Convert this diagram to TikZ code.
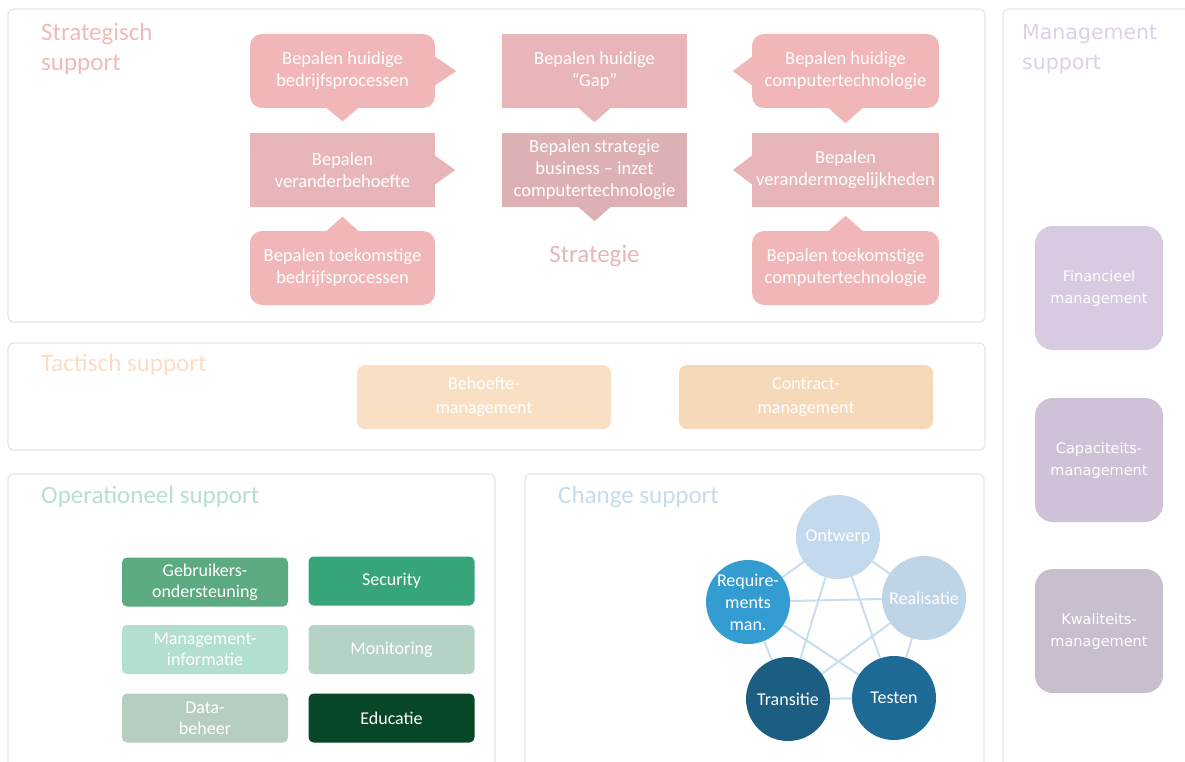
\documentclass[tikz,border=0pt]{standalone}
\usepackage{fontspec}
\setmainfont{Carlito}
\newfontfamily\mgtfont{DejaVu Sans}
\usetikzlibrary{calc,backgrounds}

\definecolor{panelgray}{HTML}{E6E6E6}
\definecolor{spink}{HTML}{F1B6B7}
\definecolor{srose}{HTML}{E8B5B8}
\definecolor{sdark}{HTML}{DDB1B4}
\definecolor{stitle}{HTML}{F2B9B9}
\definecolor{sstrat}{HTML}{E6B6BA}
\definecolor{ttitle}{HTML}{FBDDC3}
\definecolor{tbeh}{HTML}{F9E0C4}
\definecolor{tcon}{HTML}{F5D9B9}
\definecolor{otitle}{HTML}{B5E0D1}
\definecolor{ogeb}{HTML}{5CAA80}
\definecolor{osec}{HTML}{36A67A}
\definecolor{omgi}{HTML}{B3DFCF}
\definecolor{omon}{HTML}{B5D3C5}
\definecolor{odat}{HTML}{B5CEBF}
\definecolor{oedu}{HTML}{074727}
\definecolor{ctitle}{HTML}{C6DBEE}
\definecolor{cont}{HTML}{C3D9ED}
\definecolor{crea}{HTML}{BED4E7}
\definecolor{ctes}{HTML}{1E6A97}
\definecolor{ctra}{HTML}{1B5E81}
\definecolor{creq}{HTML}{339DD2}
\definecolor{clink}{HTML}{C8DDF0}
\definecolor{mtitle}{HTML}{DCCFE6}
\definecolor{mfin}{HTML}{D8CAE0}
\definecolor{mcap}{HTML}{CFC1D7}
\definecolor{mkwa}{HTML}{C9BECE}

\begin{document}
\begin{tikzpicture}[x=1pt,y=-1pt,
  panel/.style={draw=panelgray,line width=1.2pt,rounded corners=6pt},
  ptitle/.style={anchor=west,align=left,inner sep=0pt,font=\fontsize{25}{30}\selectfont},
  sbox/.style={fill=spink,text=white,align=center,inner sep=0pt,minimum width=185pt,minimum height=74pt,rounded corners=12pt,font=\fontsize{18.5}{22}\selectfont},
  srect/.style={sbox,sharp corners,fill=srose},
  tbox/.style={text=white,align=center,inner sep=0pt,minimum width=254pt,minimum height=64pt,rounded corners=8pt,font=\fontsize{18}{24}\selectfont},
  obox/.style={text=white,align=center,inner sep=0pt,minimum width=166pt,minimum height=49pt,rounded corners=5pt,font=\fontsize{18}{21}\selectfont},
  cbox/.style={circle,text=white,align=center,inner sep=0pt,minimum size=84pt,font=\fontsize{18}{22}\selectfont},
  mbox/.style={text=white,align=center,inner sep=0pt,minimum width=128pt,minimum height=124pt,rounded corners=18pt,font=\mgtfont\fontsize{14.5}{22}\selectfont},
  link/.style={draw=clink,line width=2pt}
]
\useasboundingbox (0,0) rectangle (1185,762);
\clip (0,0) rectangle (1185,762);

% panels
\draw[panel] (8,9) rectangle (985,322);
\draw[panel] (8,343) rectangle (985,450);
\draw[panel] (8,474) rectangle (495,790);
\draw[panel] (525,474) rectangle (984,790);
\draw[panel] (1003,9) rectangle (1210,790);

\node[ptitle,text=stitle] (tstr) at (41,49) {Strategisch\\support};
\node[ptitle,text=ttitle] (ttac) at (41,365) {Tactisch support};
\node[ptitle,text=otitle] (tope) at (41,497) {Operationeel support};
\node[ptitle,text=ctitle] (tchg) at (558,497) {Change support};
\node[ptitle,text=mtitle,font=\mgtfont\fontsize{20.5}{30}\selectfont] (tmgt) at (1022,49) {Management\\support};

% strategisch
\node[sbox] (bhb) at (342.5,71) {Bepalen huidige\\bedrijfsprocessen};
\node[srect] (bvb) at (342.5,170) {Bepalen\\veranderbehoefte};
\node[sbox] (btb) at (342.5,268) {Bepalen toekomstige\\bedrijfsprocessen};
\node[srect] (bgap) at (594.5,71) {Bepalen huidige\\“Gap”};
\node[srect,fill=sdark] (bstr) at (594.5,170) {Bepalen strategie\\business -- inzet\\computertechnologie};
\node[text=sstrat,font=\fontsize{25}{30}\selectfont] (strat) at (594.5,256) {Strategie};
\node[sbox,minimum width=187pt] (bhc) at (845.5,71) {Bepalen huidige\\computertechnologie};
\node[srect,minimum width=187pt] (bvm) at (845.5,170) {Bepalen\\verandermogelijkheden};
\node[sbox,minimum width=187pt] (btc) at (845.5,268) {Bepalen toekomstige\\computertechnologie};

\fill[spink] ($(bhb.east)+(-1,-15)$) -- ($(bhb.east)+(21,0)$) -- ($(bhb.east)+(-1,15)$) -- cycle;
\fill[spink] ($(bhb.south)+(-17,-1)$) -- ($(bhb.south)+(0,13)$) -- ($(bhb.south)+(17,-1)$) -- cycle;
\fill[srose] ($(bvb.east)+(-1,-15)$) -- ($(bvb.east)+(20,0)$) -- ($(bvb.east)+(-1,15)$) -- cycle;
\fill[spink] ($(btb.north)+(-17,1)$) -- ($(btb.north)+(0,-14)$) -- ($(btb.north)+(17,1)$) -- cycle;
\fill[srose] ($(bgap.south)+(-17,-1)$) -- ($(bgap.south)+(0,14)$) -- ($(bgap.south)+(17,-1)$) -- cycle;
\fill[sdark] ($(bstr.south)+(-17,-1)$) -- ($(bstr.south)+(0,14)$) -- ($(bstr.south)+(17,-1)$) -- cycle;
\fill[spink] ($(bhc.west)+(1,-15)$) -- ($(bhc.west)+(-19,0)$) -- ($(bhc.west)+(1,15)$) -- cycle;
\fill[spink] ($(bhc.south)+(-18,-1)$) -- ($(bhc.south)+(0,15)$) -- ($(bhc.south)+(18,-1)$) -- cycle;
\fill[srose] ($(bvm.west)+(1,-15)$) -- ($(bvm.west)+(-19,0)$) -- ($(bvm.west)+(1,15)$) -- cycle;
\fill[spink] ($(btc.north)+(-18,1)$) -- ($(btc.north)+(0,-15)$) -- ($(btc.north)+(18,1)$) -- cycle;

% tactisch
\node[tbox,fill=tbeh] (beh) at (484,397) {Behoefte-\\management};
\node[tbox,fill=tcon] (con) at (806,397) {Contract-\\management};

% operationeel
\node[obox,fill=ogeb] (geb) at (205,582) {Gebruikers-\\ondersteuning};
\node[obox,fill=osec] (sec) at (391.5,581) {Security};
\node[obox,fill=omgi] (mgi) at (205,649.5) {Management-\\informatie};
\node[obox,fill=omon] (mon) at (391.5,649.5) {Monitoring};
\node[obox,fill=odat] (dat) at (205,718) {Data-\\beheer};
\node[obox,fill=oedu] (edu) at (391.5,718) {Educatie};

% change
\node[cbox,fill=cont] (ont) at (838,537) {Ontwerp};
\node[cbox,fill=crea] (rea) at (924,598) {Realisatie};
\node[cbox,fill=ctes] (tes) at (894,698) {Testen};
\node[cbox,fill=ctra] (tra) at (788,699) {Transitie};
\node[cbox,fill=creq] (req) at (748,602) {Require-\\ments\\man.};
\begin{scope}[on background layer]
  \foreach \a/\b in {ont/rea,ont/tes,ont/tra,ont/req,rea/tes,rea/tra,rea/req,tes/tra,tes/req,tra/req}
    \draw[link] (\a) -- (\b);
\end{scope}

% management
\node[mbox,fill=mfin] (fin) at (1099,288) {Financieel\\management};
\node[mbox,fill=mcap] (cap) at (1099,460) {Capaciteits-\\management};
\node[mbox,fill=mkwa] (kwa) at (1099,631) {Kwaliteits-\\management};
\end{tikzpicture}
\end{document}
